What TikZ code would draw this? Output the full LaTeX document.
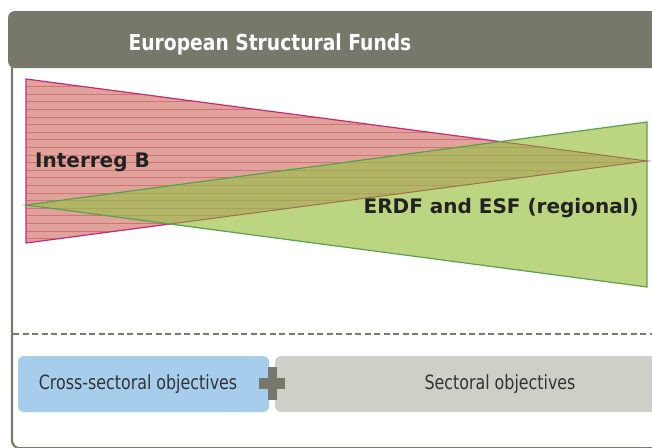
\documentclass[tikz,border=0pt]{standalone}
\usepackage{fontspec}
\setmainfont{DejaVu Sans}
\newfontfamily\hdfont[FakeStretch=0.85]{DejaVu Sans}
\newfontfamily\bxfont[FakeStretch=0.81]{DejaVu Sans}
\definecolor{hdr}{HTML}{77776A}
\definecolor{frm}{HTML}{7A7A6C}
\definecolor{redfill}{HTML}{E0A29A}
\definecolor{redline}{HTML}{CF7474}
\definecolor{rededge}{HTML}{C8287A}
\definecolor{grnfill}{HTML}{BCD580}
\definecolor{grnedge}{HTML}{5AA050}
\definecolor{olv}{HTML}{B3B566}
\definecolor{olvline}{HTML}{A6A45C}
\definecolor{brownedge}{HTML}{A07050}
\definecolor{bluebox}{HTML}{A7CDEC}
\definecolor{graybox}{HTML}{CFCFC7}
\definecolor{txt}{HTML}{222222}
\definecolor{btxt}{HTML}{333333}
\tikzset{
  lbl/.style={font=\fontsize{20}{24}\selectfont\bfseries, text=txt, inner sep=0pt},
  boxtxt/.style={font=\bxfont\fontsize{19.6}{24}\selectfont, text=btxt, inner sep=0pt},
  objbox/.style={rounded corners=6pt},
}
\begin{document}
\begin{tikzpicture}[x=1pt,y=-1pt]
\useasboundingbox (0,0) rectangle (652,447);
% frame
\draw[frm, line width=2.2pt, rounded corners=8pt] (12,40) -- (12,448.3) -- (700,448.3);
% header
\fill[hdr, rounded corners=7pt] (8,11) rectangle (720,68);
\node[font=\hdfont\fontsize{22}{26}\selectfont\bfseries, text=white, inner sep=0pt, anchor=base] (title) at (270,50) {European Structural Funds};
% triangles
\coordinate (r1) at (26,79);
\coordinate (r2) at (26,243);
\coordinate (r3) at (647,161);
\coordinate (g1) at (26,205);
\coordinate (g2) at (647,122);
\coordinate (g3) at (647,287);
\fill[redfill] (r1) -- (r3) -- (r2) -- cycle;
\begin{scope}
  \clip (r1) -- (r3) -- (r2) -- cycle;
  \foreach \yy in {0,...,21} {
    \draw[redline, line width=0.9pt] (20,{86.6+7.6*\yy}) -- (650,{86.6+7.6*\yy});
  }
\end{scope}
\draw[rededge, line width=1.2pt] (r1) -- (r3) -- (r2) -- cycle;
\fill[grnfill] (g1) -- (g2) -- (g3) -- cycle;
\begin{scope}
  \clip (g1) -- (g2) -- (g3) -- cycle;
  \fill[olv] (r1) -- (r3) -- (r2) -- cycle;
  \begin{scope}
    \clip (r1) -- (r3) -- (r2) -- cycle;
    \foreach \yy in {0,...,21} {
      \draw[olvline, line width=0.8pt] (20,{86.6+7.6*\yy}) -- (650,{86.6+7.6*\yy});
    }
  \end{scope}
  \draw[brownedge, line width=1pt] (r1) -- (r3) -- (r2) -- cycle;
\end{scope}
\draw[grnedge, line width=1.2pt] (g1) -- (g2) -- (g3) -- cycle;
\node[lbl, anchor=base west] (interreg) at (35,167) {Interreg B};
\node[lbl, anchor=base east] (erdf) at (639,213) {ERDF and ESF (regional)};
% dashed separator
\coordinate (dl) at (13,334);
\coordinate (dr) at (652,334);
\draw[frm, line width=2pt, dash pattern=on 6pt off 3.5pt] (dl) -- (dr);
% objective boxes
\fill[bluebox, objbox] (18,356) rectangle (269,412);
\fill[graybox, objbox] (275,356) rectangle (700,412);
\node[boxtxt] (cross) at (138,384) {Cross-sectoral objectives};
\node[boxtxt] (sect) at (500,384) {Sectoral objectives};
% plus
\fill[hdr] (259,378) rectangle (285,389);
\fill[hdr] (267.5,367) rectangle (276.5,400);
\end{tikzpicture}
\end{document}
